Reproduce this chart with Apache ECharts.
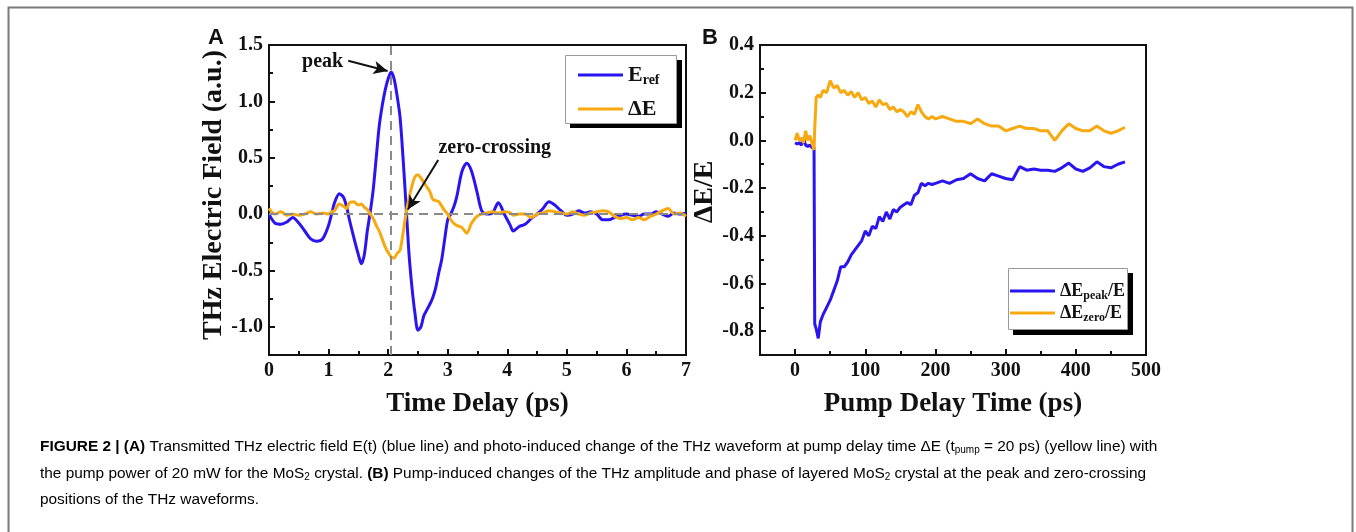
<!DOCTYPE html>
<html>
<head>
<meta charset="utf-8">
<script src="https://cdn.jsdelivr.net/npm/echarts@6/dist/echarts.min.js"></script>
<style>
html, body { margin: 0; padding: 0; background: #fff; }
#main { width: 1356px; height: 532px; }
</style>
</head>
<body>
<div id="main"></div>
<script>
var dom = document.getElementById("main");
var myChart = echarts.init(dom);

// Panel A: THz waveform, time delay (ps)
var timeDelay = [0, 0.1, 0.2, 0.3, 0.4, 0.5, 0.6, 0.7, 0.8, 0.9, 1.0, 1.05, 1.1, 1.18, 1.25, 1.3, 1.35, 1.42, 1.5, 1.55,
	1.6, 1.65, 1.7, 1.75, 1.8, 1.85, 1.9, 1.95, 2.0, 2.05, 2.1, 2.15, 2.2, 2.25, 2.3, 2.35, 2.4, 2.45, 2.5, 2.55,
	2.6, 2.65, 2.7, 2.75, 2.8, 2.85, 2.9, 2.95, 3.0, 3.05, 3.1, 3.15, 3.24, 3.32, 3.4, 3.49, 3.57, 3.65, 3.75, 3.85,
	3.95, 4.05, 4.1, 4.2, 4.3, 4.4, 4.5, 4.6, 4.7, 4.8, 4.9, 5.0, 5.1, 5.2, 5.3, 5.4, 5.5, 5.6, 5.7, 5.8,
	5.9, 6.0, 6.1, 6.2, 6.3, 6.4, 6.5, 6.6, 6.7, 6.8, 6.9, 7.0];
var eRef = [0.0, -0.08, -0.09, -0.07, -0.03, -0.08, -0.15, -0.22, -0.24, -0.22, -0.1, 0.0, 0.1, 0.18, 0.15, 0.07, -0.05, -0.2, -0.36, -0.44,
	-0.36, -0.15, 0.02, 0.22, 0.5, 0.78, 0.96, 1.1, 1.2, 1.26, 1.2, 1.05, 0.86, 0.5, 0.08, -0.35, -0.65, -0.88, -1.03, -1.0,
	-0.9, -0.85, -0.8, -0.74, -0.65, -0.52, -0.4, -0.22, -0.05, 0.0, 0.06, 0.15, 0.38, 0.45, 0.38, 0.2, 0.03, 0.0, 0.01, 0.1,
	0.0, -0.1, -0.15, -0.11, -0.09, -0.04, 0.0, 0.05, 0.11, 0.08, 0.03, -0.01, 0.0, 0.03, 0.01, 0.02, 0.0, -0.05, -0.05, -0.03,
	-0.01, 0.0, -0.01, -0.02, 0.0, 0.0, 0.02, 0.0, -0.02, 0.01, 0.0, 0.01];
var deltaE = [0.05, 0.0, 0.02, -0.01, 0.0, -0.01, 0.0, 0.02, 0.0, 0.01, 0.0, 0.02, 0.03, 0.09, 0.07, 0.05, 0.1, 0.11, 0.08, 0.09,
	0.06, 0.04, 0.0, -0.04, -0.1, -0.15, -0.22, -0.29, -0.34, -0.38, -0.39, -0.35, -0.32, -0.17, 0.0, 0.14, 0.25, 0.33, 0.35, 0.32,
	0.28, 0.24, 0.2, 0.13, 0.12, 0.11, 0.07, 0.03, 0.0, -0.05, -0.08, -0.1, -0.12, -0.17, -0.08, -0.02, 0.0, 0.01, 0.02, 0.01,
	0.02, 0.01, -0.01, 0.0, 0.0, -0.03, 0.0, 0.01, 0.03, 0.02, 0.01, 0.0, 0.02, 0.0, -0.01, 0.01, 0.02, 0.03, 0.02, -0.02,
	-0.04, -0.03, -0.05, -0.03, -0.05, -0.02, 0.0, 0.03, 0.05, 0.0, 0.01, -0.02];

// Panel B: pump delay time (ps)
var pumpDelay = [0, 3, 6, 9, 12, 15, 18, 21, 24, 27, 28, 30, 33, 36, 40, 45, 50, 55, 60, 65,
	70, 75, 80, 85, 90, 95, 100, 105, 110, 115, 120, 125, 130, 135, 140, 145, 150, 155, 160, 165,
	170, 175, 180, 185, 190, 195, 200, 210, 220, 230, 240, 250, 260, 270, 280, 290, 300, 310, 320, 330,
	340, 350, 360, 370, 380, 390, 400, 410, 420, 430, 440, 450, 460, 470];
var peakRatio = [-0.01, -0.015, -0.01, -0.02, 0.01, -0.02, -0.025, -0.02, -0.03, -0.03, -0.77, -0.79, -0.83, -0.76, -0.73, -0.7, -0.67, -0.63, -0.59, -0.53,
	-0.53, -0.51, -0.48, -0.46, -0.44, -0.42, -0.38, -0.4, -0.36, -0.37, -0.32, -0.34, -0.3, -0.33, -0.29, -0.3, -0.28, -0.27, -0.26, -0.27,
	-0.23, -0.22, -0.18, -0.19, -0.18, -0.185, -0.18, -0.17, -0.18, -0.165, -0.16, -0.14, -0.16, -0.17, -0.14, -0.15, -0.16, -0.165, -0.11, -0.125,
	-0.12, -0.125, -0.125, -0.13, -0.115, -0.095, -0.12, -0.13, -0.115, -0.09, -0.11, -0.115, -0.1, -0.09];
var zeroRatio = [0.0, 0.03, 0.0, 0.01, -0.01, 0.04, 0.0, 0.02, -0.01, -0.04, 0.05, 0.18, 0.19, 0.18, 0.21, 0.2, 0.25, 0.22, 0.23, 0.2,
	0.21, 0.19, 0.205, 0.18, 0.2, 0.17, 0.18, 0.155, 0.165, 0.14, 0.17, 0.15, 0.155, 0.13, 0.14, 0.12, 0.13, 0.12, 0.1, 0.12,
	0.11, 0.15, 0.12, 0.1, 0.09, 0.1, 0.09, 0.1, 0.09, 0.08, 0.08, 0.07, 0.09, 0.07, 0.06, 0.06, 0.04, 0.05, 0.06, 0.05,
	0.05, 0.04, 0.04, 0.0, 0.04, 0.07, 0.05, 0.04, 0.04, 0.06, 0.04, 0.03, 0.04, 0.055];

var ticksA_x = [0, 1, 2, 3, 4, 5, 6, 7];
var minorA_x = [0.5, 1.5, 2.5, 3.5, 4.5, 5.5, 6.5];
var ticksA_y = [-1.0, -0.5, 0.0, 0.5, 1.0, 1.5];
var minorA_y = [-1.25, -0.75, -0.25, 0.25, 0.75, 1.25];
var ticksB_x = [0, 100, 200, 300, 400, 500];
var minorB_x = [-50, 50, 150, 250, 350, 450];
var ticksB_y = [-0.8, -0.6, -0.4, -0.2, 0.0, 0.2, 0.4];
var minorB_y = [-0.9, -0.7, -0.5, -0.3, -0.1, 0.1, 0.3];

function pairs(xs, ys) {
	var out = [];
	for (var i = 0; i < xs.length; i++) out.push([xs[i], ys[i]]);
	return out;
}

var serif = "'Liberation Serif', 'Times New Roman', serif";
var blue = '#2a14f0';
var orange = '#f7a90f';

var labelStyle = { fontFamily: serif, fontWeight: 'bold', fontSize: 20, color: '#111' };
var lineStyleAxis = { color: '#111', width: 2 };

function mainAxis(grid, min, max, ticks, name, nameGap, isY, fmt, shift) {
	return {
		type: 'value', gridIndex: grid, min: min, max: max,
		name: name, nameLocation: 'middle', nameGap: nameGap,
		nameTextStyle: { fontFamily: serif, fontWeight: 'bold', fontSize: isY ? 28 : 27, color: '#111', padding: isY ? [0, 0, 0, shift] : 0 },
		axisLine: { show: true, onZero: false, lineStyle: lineStyleAxis },
		axisTick: { show: true, inside: true, length: 6, customValues: ticks, lineStyle: { color: '#111', width: 2 } },
		axisLabel: Object.assign({ customValues: ticks, margin: 6, formatter: fmt }, labelStyle),
		splitLine: { show: false }
	};
}
function minorAxis(grid, min, max, ticks, pos) {
	return {
		type: 'value', gridIndex: grid, min: min, max: max, position: pos,
		axisLine: { show: false, onZero: false },
		axisTick: { show: true, inside: true, length: 4, customValues: ticks, lineStyle: { color: '#111', width: 2 } },
		axisLabel: { show: false },
		splitLine: { show: false }
	};
}

var plain = function (v) { return v; };
var oneDec = function (v) { return v.toFixed(1); };

var xAxes = [
	mainAxis(0, 0, 7, ticksA_x, 'Time Delay (ps)', 36, false, plain),
	minorAxis(0, 0, 7, minorA_x, 'bottom'),
	mainAxis(1, -50, 500, ticksB_x, 'Pump Delay Time (ps)', 36, false, plain),
	minorAxis(1, -50, 500, minorB_x, 'bottom')
];
var yAxes = [
	mainAxis(0, -1.25, 1.5, ticksA_y, 'THz Electric Field (a.u.)', 34, true, oneDec, 10),
	minorAxis(0, -1.25, 1.5, minorA_y, 'left'),
	mainAxis(1, -0.9, 0.4, ticksB_y, '\u0394E/E', 20, true, oneDec, 16),
	minorAxis(1, -0.9, 0.4, minorB_y, 'left')
];

var legendRich = {
	b: { fontFamily: serif, fontWeight: 'bold', fontSize: 22, color: '#111' },
	s: { fontFamily: serif, fontWeight: 'bold', fontSize: 14, color: '#111', padding: [10, 0, 0, 0] }
};
var legendRichB = {
	b: { fontFamily: serif, fontWeight: 'bold', fontSize: 18, color: '#111' },
	s: { fontFamily: serif, fontWeight: 'bold', fontSize: 12, color: '#111', padding: [9, 0, 0, 0] }
};
var legendNames = {
	E_ref: '{b|E}{s|ref}',
	dE: '{b|\u0394E}',
	peak: '{b|\u0394E}{s|peak}{b|/E}',
	zero: '{b|\u0394E}{s|zero}{b|/E}'
};

function legendItem(name, left, top, rich) {
	return {
		data: [name], left: left, top: top, padding: 0, itemGap: 0, z: 10,
		itemWidth: 45, itemHeight: 3, icon: 'rect', selectedMode: false,
		formatter: function (n) { return legendNames[n]; },
		textStyle: { rich: rich }
	};
}

var captionFont = "'Liberation Sans Narrow', 'Arial Narrow', 'Liberation Sans', sans-serif";
var capRich = {
	n: { fontFamily: captionFont, fontSize: 15.4, color: '#222' },
	bb: { fontFamily: captionFont, fontSize: 15.4, fontWeight: 'bold', color: '#222' },
	sub: { fontFamily: captionFont, fontSize: 10, color: '#222', padding: [8, 0, 0, 0] }
};

option = {
	animation: false,
	backgroundColor: '#fff',
	title: [
		{ text: 'A', left: 203, top: 22, textStyle: { fontFamily: "'Liberation Sans', Arial, sans-serif", fontWeight: 'bold', fontSize: 22, color: '#111' } },
		{ text: 'B', left: 697, top: 22, textStyle: { fontFamily: "'Liberation Sans', Arial, sans-serif", fontWeight: 'bold', fontSize: 22, color: '#111' } }
	],
	grid: [
		{ left: 269, top: 45, width: 417, height: 310, show: true, borderColor: '#111', borderWidth: 2, backgroundColor: 'transparent' },
		{ left: 760, top: 45, width: 386, height: 310, show: true, borderColor: '#111', borderWidth: 2, backgroundColor: 'transparent' }
	],
	legend: [
		legendItem('E_ref', 578, 64, legendRich),
		legendItem('dE', 578, 98, legendRich),
		legendItem('peak', 1010, 282, legendRichB),
		legendItem('zero', 1010, 304, legendRichB)
	],
	xAxis: xAxes,
	yAxis: yAxes,
	series: [
		{
			name: 'E_ref', type: 'line', xAxisIndex: 0, yAxisIndex: 0, symbol: 'none', smooth: 0.3,
			lineStyle: { color: blue, width: 3 }, itemStyle: { color: blue },
			data: pairs(timeDelay, eRef),
			z: 3
		},
		{
			name: 'dE', type: 'line', xAxisIndex: 0, yAxisIndex: 0, symbol: 'none', smooth: 0.3,
			lineStyle: { color: orange, width: 3 }, itemStyle: { color: orange },
			data: pairs(timeDelay, deltaE),
			z: 4,
			markLine: {
				silent: true, symbol: 'none',
				lineStyle: { color: '#8a8a8a', type: [9, 6], width: 2 },
				label: { show: false },
				data: [{ xAxis: 2.05 }, { yAxis: 0 }]
			}
		},
		{
			// annotation arrows and texts
			name: 'annot', type: 'line', xAxisIndex: 0, yAxisIndex: 0, data: [], z: 6,
			markLine: {
				silent: true, symbol: ['none', 'arrow'], symbolSize: [10, 14],
				lineStyle: { color: '#111', type: 'solid', width: 2 },
				label: { show: false },
				data: [
					[{ coord: [1.33, 1.36] }, { coord: [1.99, 1.27] }],
					[{ coord: [2.84, 0.48] }, { coord: [2.33, 0.04] }]
				]
			},
			markPoint: {
				silent: true, symbol: 'circle', symbolSize: 0,
				label: { show: true, position: 'inside', fontFamily: serif, fontWeight: 'bold', fontSize: 20, color: '#111' },
				data: [
					{ coord: [0.9, 1.355], label: { formatter: 'peak' } },
					{ coord: [3.79, 0.585], label: { formatter: 'zero-crossing' } }
				]
			}
		},
		{
			name: 'peak', type: 'line', xAxisIndex: 2, yAxisIndex: 2, symbol: 'none',
			lineStyle: { color: blue, width: 3 }, itemStyle: { color: blue },
			data: pairs(pumpDelay, peakRatio)
		},
		{
			name: 'zero', type: 'line', xAxisIndex: 2, yAxisIndex: 2, symbol: 'none',
			lineStyle: { color: orange, width: 3 }, itemStyle: { color: orange },
			data: pairs(pumpDelay, zeroRatio)
		}
	],
	graphic: [
		{ type: 'rect', shape: { x: 8.5, y: 7.5, width: 1344, height: 600 }, style: { fill: 'none', stroke: '#7a7a7a', lineWidth: 2 }, silent: true },
		// legend boxes with drop shadow
		{ type: 'rect', z: 1, shape: { x: 570, y: 60, width: 112, height: 68 }, style: { fill: '#000' }, silent: true },
		{ type: 'rect', z: 2, shape: { x: 565.5, y: 55.5, width: 111, height: 68 }, style: { fill: '#fff', stroke: '#999', lineWidth: 1 }, silent: true },
		{ type: 'rect', z: 1, shape: { x: 1013, y: 273, width: 120, height: 62 }, style: { fill: '#000' }, silent: true },
		{ type: 'rect', z: 2, shape: { x: 1008.5, y: 268.5, width: 119, height: 61 }, style: { fill: '#fff', stroke: '#999', lineWidth: 1 }, silent: true },
		{
			type: 'text', left: 40, top: 439,
			style: {
				text: '{bb|FIGURE 2 | (A)}{n| Transmitted THz electric field E(t) (blue line) and photo-induced change of the THz waveform at pump delay time \u0394E (t}{sub|pump}{n| = 20 ps) (yellow line) with}',
				rich: capRich
			}
		},
		{
			type: 'text', left: 40, top: 466,
			style: {
				text: '{n|the pump power of 20 mW for the MoS}{sub|2}{n| crystal. }{bb|(B)}{n| Pump-induced changes of the THz amplitude and phase of layered MoS}{sub|2}{n| crystal at the peak and zero-crossing}',
				rich: capRich
			}
		},
		{
			type: 'text', left: 40, top: 492,
			style: {
				text: '{n|positions of the THz waveforms.}',
				rich: capRich
			}
		}
	]
};

if (option && typeof option === "object") {
	myChart.setOption(option, true);
}
</script>
</body>
</html>
